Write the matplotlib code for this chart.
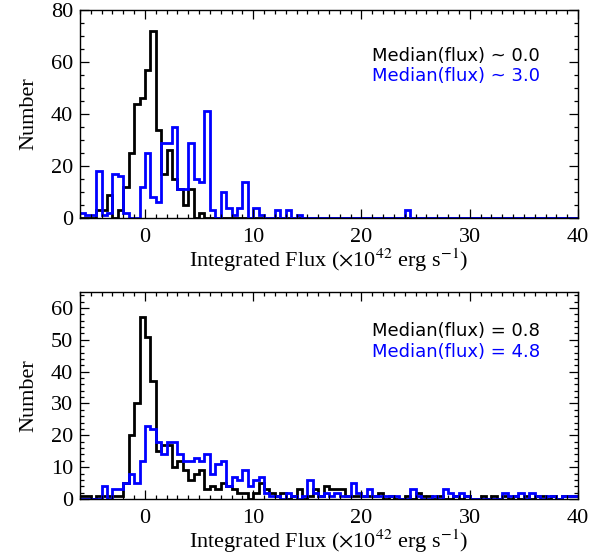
import numpy as np
import matplotlib
matplotlib.use("Agg")
import matplotlib.pyplot as plt
from matplotlib.ticker import MultipleLocator

# bins of 0.5 from -6 to 40
bin_lo = -6.0
bin_hi = 40.0
bin_w = 0.5

top_black = [0, 0, 0, 3, 3, 9, 0, 3, 12, 25, 44, 46, 57, 72, 34, 17, 26, 15, 11, 5,
             11, 0, 2] + [0] * 69
top_blue = [2, 1, 1, 18, 1, 2, 17, 16, 2, 0, 0, 12, 25, 8, 6, 29, 29, 35, 11, 11,
            29, 15, 14, 41, 3, 0, 10, 4, 1, 4, 14, 0, 4, 1, 0, 0, 3, 0, 3, 0,
            1] + [0] * 19 + [3] + [0] * 31

bot_black = [1, 1, 0, 1, 1, 1, 1, 1, 5, 20, 30,
             57, 51, 37, 15, 17, 17, 10, 12, 9, 6,
             8, 9, 3, 4, 3, 5, 4, 3, 2, 2,
             0, 2, 5, 3, 2, 1, 2, 0, 1, 3,
             0, 1, 3, 1, 4, 3, 3, 3, 1, 1,
             1, 1, 1, 1, 2, 0, 1, 0, 0, 1,
             0, 2, 1, 1, 0, 1, 0, 0, 1, 0,
             1, 0, 0, 1, 0, 1, 0, 1, 0, 1,
             0, 1, 0, 1, 1, 0, 1, 0, 1, 1, 1]
bot_blue = [0, 0, 0, 0, 4, 0, 3, 3, 5, 8, 5,
            12, 23, 22, 18, 14, 18, 18, 14, 12, 12,
            13, 12, 14, 8, 11, 12, 4, 7, 6, 9,
            4, 6, 7, 2, 1, 1, 0, 2, 1, 0,
            1, 6, 2, 1, 2, 1, 2, 1, 1, 5,
            2, 1, 3, 1, 1, 1, 1, 1, 0, 0,
            3, 1, 0, 0, 1, 0, 3, 2, 1, 2,
            1, 0, 0, 0, 0, 0, 0, 2, 1, 1,
            2, 0, 2, 1, 0, 1, 1, 0, 1, 1, 1]

top_text = ["Median(flux) ~ 0.0", "Median(flux) ~ 3.0"]
bot_text = ["Median(flux) = 0.8", "Median(flux) = 4.8"]
xlabel = r"Integrated Flux ($\times$10$^{42}$ erg s$^{-1}$)"

plt.rcParams["font.family"] = "Liberation Serif"
plt.rcParams["mathtext.fontset"] = "stix"


def style_axes(ax, ymax, ymajor, yminor):
    ax.set_xlim(bin_lo, bin_hi)
    ax.set_ylim(0, ymax)
    ax.xaxis.set_major_locator(MultipleLocator(10))
    ax.xaxis.set_minor_locator(MultipleLocator(1))
    ax.yaxis.set_major_locator(MultipleLocator(ymajor))
    ax.yaxis.set_minor_locator(MultipleLocator(yminor))
    ax.tick_params(which="both", direction="in", top=True, right=True,
                   width=0.9, labelsize=16)
    ax.tick_params(axis="x", pad=7)
    ax.tick_params(axis="y", pad=5)
    ax.tick_params(which="major", length=6.5)
    ax.tick_params(which="minor", length=3.2)
    for s in ax.spines.values():
        s.set_linewidth(1.0)
    ax.set_xlabel(xlabel, fontsize=16, labelpad=0)
    ax.set_ylabel("Number", fontsize=16, labelpad=9)


def panel(ax, black, blue, texts, ymax, ymajor, yminor, ty):
    edges = np.arange(len(black) + 1) * bin_w + bin_lo
    ax.stairs(black, edges, color="black", linewidth=2.0, baseline=None)
    ax.stairs(blue, edges, color="#0000ff", linewidth=2.0, baseline=None)
    style_axes(ax, ymax, ymajor, yminor)
    ax.text(0.586, ty[0], texts[0], transform=ax.transAxes, color="black",
            fontsize=13, family="DejaVu Sans", va="center")
    ax.text(0.586, ty[1], texts[1], transform=ax.transAxes, color="#0000ff",
            fontsize=13, family="DejaVu Sans", va="center")


def main():
    fig = plt.figure(figsize=(6.06, 5.59), dpi=100)
    ax1 = fig.add_axes([80 / 606, 1 - 218 / 559, 498 / 606, 208 / 559])
    ax2 = fig.add_axes([80 / 606, 1 - 499 / 559, 498 / 606, 207 / 559])
    panel(ax1, top_black, top_blue, top_text, 80, 20, 5, (0.779, 0.683))
    panel(ax2, bot_black, bot_blue, bot_text, 65, 10, 2, (0.812, 0.710))
    fig.savefig("out.png", dpi=100)


if __name__ == "__main__":
    main()
